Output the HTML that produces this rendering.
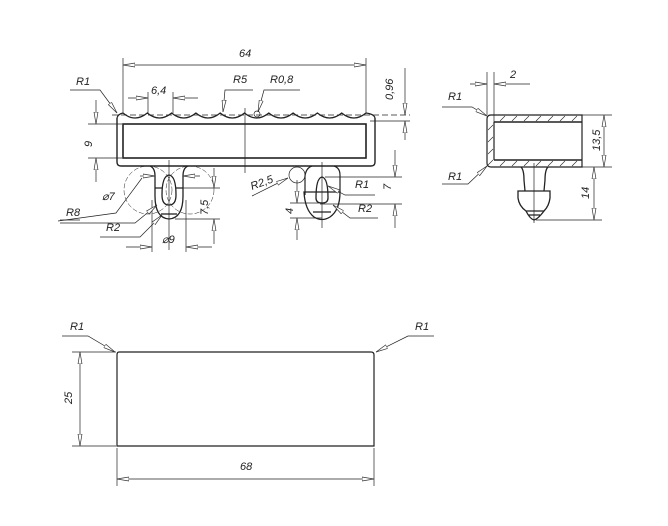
<!DOCTYPE html>
<html><head><meta charset="utf-8"><style>
html,body{margin:0;padding:0;background:#fff;}
svg{display:block;}
text{font-family:"Liberation Sans",sans-serif;font-style:italic;font-size:11px;fill:#222;}
</style></head><body>
<svg width="668" height="526" viewBox="0 0 668 526" xmlns="http://www.w3.org/2000/svg">
<defs>
<marker id="a" viewBox="0 0 12 6" refX="12" refY="3" markerWidth="12" markerHeight="6" orient="auto-start-reverse" markerUnits="userSpaceOnUse">
<path d="M0,1 L12,3 L0,5 Z" fill="#fff" stroke="#333" stroke-width="0.7"/></marker>
</defs>
<g fill="none" stroke="#222" stroke-width="0.7">
<!-- TOP VIEW -->
<!-- outer body -->
<path d="M117,118 L117,162 Q117,166 121,166 L371,166 Q375,166 375,162 L375,118" stroke-width="1.4"/>
<path id="sc" d="M123,113 Q135,123 147.3,113 Q159.5,123 171.6,113 Q183.8,123 195.9,113 Q208,123 220.2,113 Q232.3,123 244.5,113 Q256.6,123 268.8,113 Q281,123 293.1,113 Q305.2,123 317.4,113 Q329.6,123 341.7,113 Q353.9,123 366,113" stroke-width="1.2"/>
<path d="M117,118 Q118,114 123,113 M366,113 Q374,114 375,118" stroke-width="1.2"/>
<rect x="123" y="124" width="243" height="34" stroke-width="1.6"/>
<line x1="245" y1="108" x2="245" y2="173"/>
<line x1="112" y1="115" x2="410" y2="115" stroke-dasharray="6,3"/>
<line x1="370" y1="121" x2="410" y2="121"/>
<!-- dim 64 -->
<line x1="123" y1="58" x2="123" y2="113"/><line x1="366" y1="58" x2="366" y2="113"/>
<line x1="123" y1="65" x2="366" y2="65" marker-start="url(#a)" marker-end="url(#a)"/>
<!-- 0.96 -->
<line x1="405" y1="68" x2="405" y2="115" marker-end="url(#a)"/>
<line x1="405" y1="140" x2="405" y2="121" marker-end="url(#a)"/>
<!-- 6.4 -->
<line x1="148" y1="92" x2="148" y2="113"/><line x1="173" y1="92" x2="173" y2="113"/>
<line x1="128" y1="98" x2="148" y2="98" marker-end="url(#a)"/>
<line x1="198" y1="98" x2="173" y2="98" marker-end="url(#a)"/>
<!-- R5 / R0.8 -->
<polyline points="253,90 225,90 223,112" marker-end="url(#a)"/>
<polyline points="300,90 264,90 258,112" marker-end="url(#a)"/>
<circle cx="257" cy="114" r="3"/>
<!-- R1 left -->
<polyline points="70,90 100,90 117,113" marker-end="url(#a)"/>
<!-- dim 9 -->
<line x1="88" y1="124" x2="122" y2="124"/><line x1="88" y1="158" x2="122" y2="158"/>
<line x1="96" y1="100" x2="96" y2="124" marker-end="url(#a)"/>
<line x1="96" y1="182" x2="96" y2="158" marker-end="url(#a)"/>
<!-- left clip -->
<path d="M150,166 Q155,168 155,176 L155,196 Q155,218 169,219 Q183,218 183,196 L183,176 Q183,168 188,166" stroke-width="1.3"/>
<path d="M162,195 Q162,176 169,175 Q176,176 176,195 Q176,205 169,205 Q162,205 162,195 Z" stroke-width="1.3"/>
<path d="M155,188 L162,188 M176,188 L183,188" stroke-width="1.3"/>
<path d="M161,214 L177,214" stroke-width="1.3"/>
<circle cx="148" cy="190" r="24" stroke-dasharray="5,2" stroke-width="0.5"/>
<circle cx="190" cy="190" r="24" stroke-dasharray="5,2" stroke-width="0.5"/>
<line x1="169" y1="160" x2="169" y2="250"/>
<line x1="140" y1="176" x2="155" y2="176" marker-end="url(#a)"/>
<line x1="200" y1="176" x2="183" y2="176" marker-end="url(#a)"/>
<line x1="183" y1="188" x2="220" y2="188"/><line x1="175" y1="219" x2="220" y2="219"/>
<line x1="214" y1="168" x2="214" y2="188" marker-end="url(#a)"/>
<line x1="214" y1="244" x2="214" y2="219" marker-end="url(#a)"/>
<line x1="152" y1="200" x2="152" y2="252"/><line x1="186" y1="200" x2="186" y2="252"/>
<line x1="126" y1="247" x2="152" y2="247" marker-end="url(#a)"/>
<line x1="212" y1="247" x2="186" y2="247" marker-end="url(#a)"/>
<polyline points="58,221 116,213 142,178"/>
<polyline points="60,220 80,220"/>
<polyline points="60,223 135,223 157,205" marker-end="url(#a)"/>
<polyline points="100,237 140,237 162,215" marker-end="url(#a)"/>
<!-- right clip -->
<circle cx="297" cy="175" r="8"/>
<path d="M305,176 Q306,168 312,166 M305,176 L305,195" stroke-width="1.2"/>
<path d="M334,166 Q340,168 340,175 L340,192" stroke-width="1.2"/>
<path d="M304,192 L340,192 Q340,210 330,217 Q322,222 314,217 Q305,210 304,192 Z" stroke-width="1.3"/>
<path d="M316,198 Q316,178 322,177 Q328,178 328,198 Q328,203 322,203 Q316,203 316,198 Z" stroke-width="1.3"/>
<path d="M313,212 L331,212" stroke-width="1.2"/>
<line x1="322" y1="162" x2="322" y2="228"/>
<line x1="325" y1="177" x2="402" y2="177"/><line x1="320" y1="204" x2="402" y2="204"/>
<line x1="395" y1="150" x2="395" y2="177" marker-end="url(#a)"/>
<line x1="395" y1="228" x2="395" y2="204" marker-end="url(#a)"/>
<polyline points="252,196 288,178" marker-end="url(#a)"/>
<line x1="290" y1="203" x2="325" y2="203"/><line x1="290" y1="218" x2="322" y2="218"/>
<line x1="297" y1="180" x2="297" y2="203" marker-end="url(#a)"/>
<line x1="297" y1="240" x2="297" y2="218" marker-end="url(#a)"/>
<polyline points="375,195 345,195 328,186" marker-end="url(#a)"/>
<polyline points="378,218 350,218 333,205" marker-end="url(#a)"/>
<!-- SIDE VIEW -->
<path d="M491,115 L582,115 L582,167 L491,167 Q487,167 487,163 L487,119 Q487,115 491,115 Z" stroke-width="1.2"/>
<line x1="494" y1="122" x2="582" y2="122" stroke-width="1.4"/>
<line x1="494" y1="160" x2="582" y2="160" stroke-width="1.4"/>
<line x1="494" y1="122" x2="494" y2="160" stroke-width="1.2"/>
<g stroke-width="0.6">
<path d="M500,121 L505,116 M512,121 L517,116 M524,121 L529,116 M536,121 L541,116 M548,121 L553,116 M560,121 L565,116 M572,121 L577,116"/>
<path d="M500,166 L505,161 M512,166 L517,161 M524,166 L529,161 M536,166 L541,161 M548,166 L553,161 M560,166 L565,161 M572,166 L577,161"/>
<path d="M488,130 L493,125 M488,142 L493,137 M488,154 L493,149 M488,165 L493,160"/>
</g>
<line x1="487" y1="72" x2="487" y2="115"/><line x1="494" y1="72" x2="494" y2="122"/>
<line x1="470" y1="84" x2="487" y2="84" marker-end="url(#a)"/>
<line x1="530" y1="84" x2="494" y2="84" marker-end="url(#a)"/>
<polyline points="442,107 472,107 487,116" marker-end="url(#a)"/>
<polyline points="442,184 468,184 487,166" marker-end="url(#a)"/>
<path d="M521,167 Q524,170 524,180 L525,191 M548,167 Q545,170 545,180 L544,191" stroke-width="1.3"/>
<path d="M518,191 L550,191 L550,198 Q549,206 544,211 L526,211 Q519,206 518,198 Z" stroke-width="1.3"/>
<path d="M526,211 Q530,219 534,220 Q538,219 544,211 M528,215 L540,215" stroke-width="1.3"/>
<line x1="534" y1="163" x2="534" y2="223"/>
<line x1="582" y1="115" x2="612" y2="115"/><line x1="582" y1="167" x2="612" y2="167"/>
<line x1="536" y1="220" x2="602" y2="220"/>
<line x1="604" y1="115" x2="604" y2="167" marker-start="url(#a)" marker-end="url(#a)"/>
<line x1="594" y1="167" x2="594" y2="220" marker-start="url(#a)" marker-end="url(#a)"/>
<!-- BOTTOM VIEW -->
<path d="M119,352 L371,352 Q374,352 374,355 L374,446 L117,446 L117,355 Q117,352 119,352 Z" stroke-width="1.2"/>
<polyline points="62,336 88,336 115,352" marker-end="url(#a)"/>
<polyline points="434,336 408,336 376,352" marker-end="url(#a)"/>
<line x1="72" y1="352" x2="116" y2="352"/><line x1="72" y1="446" x2="116" y2="446"/>
<line x1="80" y1="352" x2="80" y2="446" marker-start="url(#a)" marker-end="url(#a)"/>
<line x1="117" y1="448" x2="117" y2="486"/><line x1="374" y1="448" x2="374" y2="486"/>
<line x1="117" y1="479" x2="374" y2="479" marker-start="url(#a)" marker-end="url(#a)"/>
</g>
<g>
<text x="239" y="57">64</text>
<text x="151" y="94" font-size="10">6,4</text>
<text x="233" y="83">R5</text>
<text x="270" y="83">R0,8</text>
<text x="76" y="85">R1</text>
<text transform="translate(393,100) rotate(-90)" font-size="10">0,96</text>
<text transform="translate(92,147) rotate(-90)" font-size="10">9</text>
<text x="102" y="200" font-size="10">⌀7</text>
<text x="66" y="216">R8</text>
<text x="106" y="231">R2</text>
<text transform="translate(208,215) rotate(-90)">7,5</text>
<text x="162" y="243">⌀9</text>
<text transform="translate(252,190) rotate(-20)">R2,5</text>
<text x="355" y="188">R1</text>
<text x="358" y="212">R2</text>
<text transform="translate(391,190) rotate(-90)">7</text>
<text transform="translate(293,214) rotate(-90)">4</text>
<text x="510" y="78">2</text>
<text x="448" y="100">R1</text>
<text x="448" y="180">R1</text>
<text transform="translate(600,151) rotate(-90)">13,5</text>
<text transform="translate(589,199) rotate(-90)">14</text>
<text x="70" y="330">R1</text>
<text x="415" y="330">R1</text>
<text transform="translate(72,404) rotate(-90)">25</text>
<text x="240" y="470">68</text>
</g>
</svg>
</body></html>
